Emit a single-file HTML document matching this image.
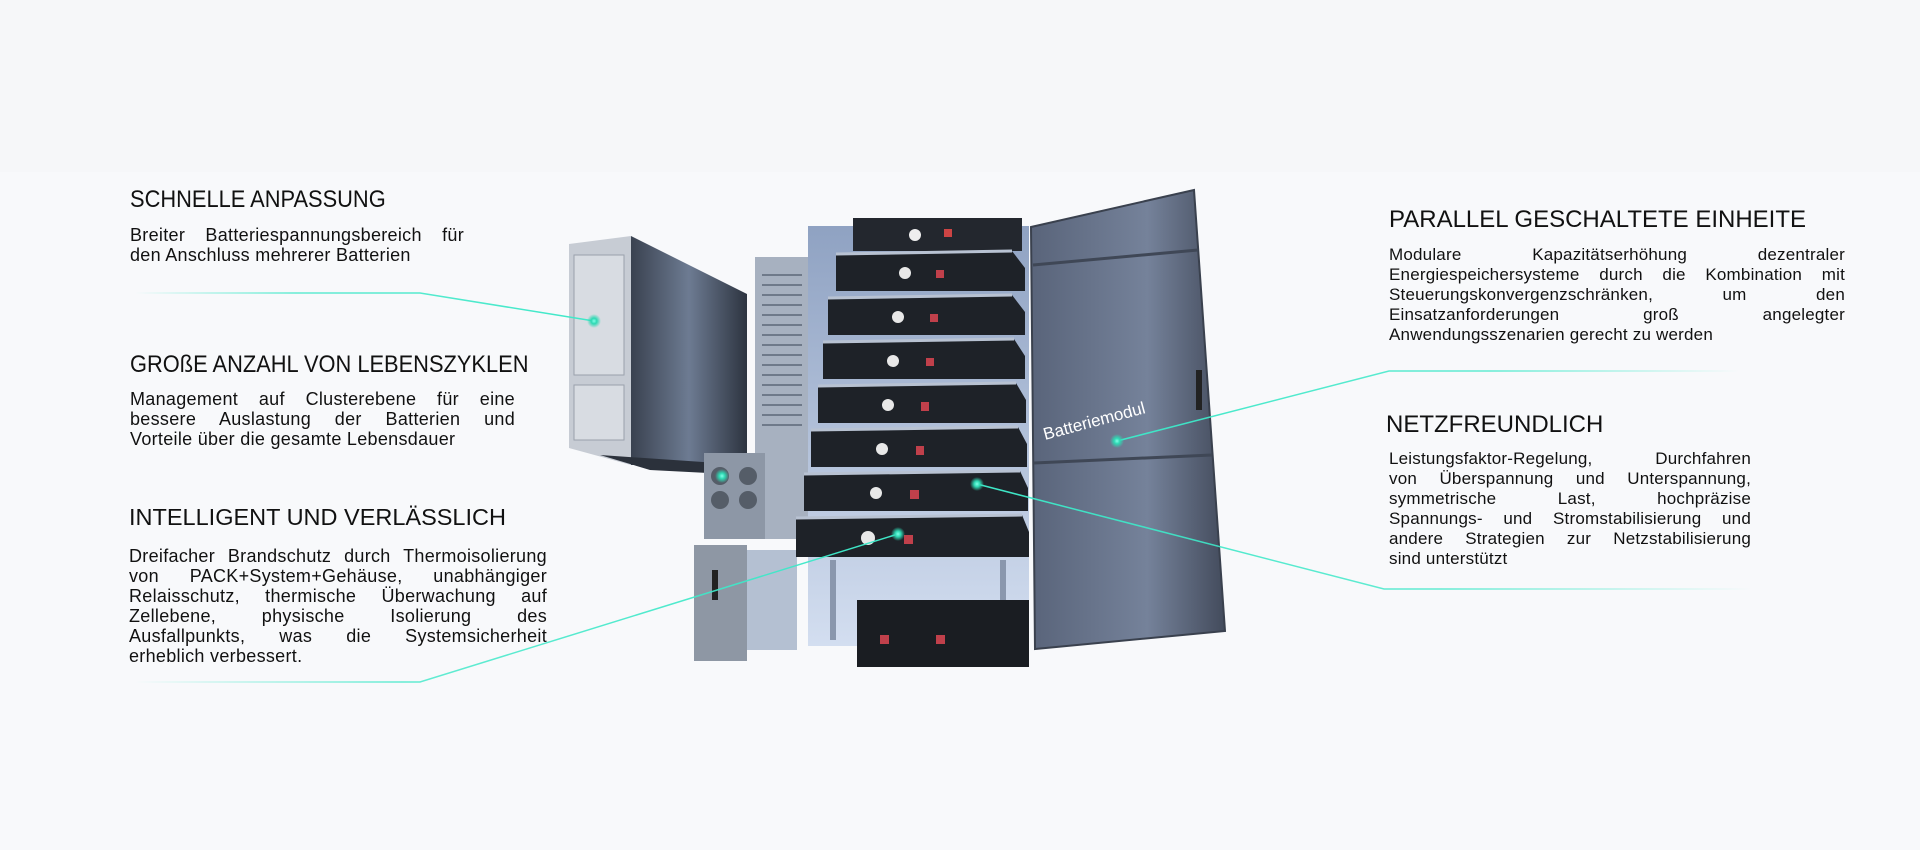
<!DOCTYPE html>
<html><head><meta charset="utf-8"><style>
html,body{margin:0;padding:0;width:1920px;height:850px;overflow:hidden;background:#f8f9fb;font-family:"Liberation Sans",Arial,sans-serif;color:#111;}
.abs{position:absolute;}
.h{font-size:24px;white-space:nowrap;transform-origin:0 0;line-height:28px;}
.b{font-size:17px;line-height:20px;letter-spacing:0.2px;}
.bl{font-size:18px;letter-spacing:0.3px;}
.b div{white-space:nowrap;text-align:justify;text-align-last:justify;}
.b div.l{text-align-last:left;}
</style></head><body>
<div class="abs" style="left:0;top:0;width:1920px;height:172px;background:#f6f7f9"></div>
<svg class="abs" style="left:0;top:0" width="1920" height="850" viewBox="0 0 1920 850">
<defs>
<linearGradient id="gl" x1="0" x2="1" y1="0" y2="0"><stop offset="0" stop-color="#3ee8c8" stop-opacity="0"/><stop offset="0.35" stop-color="#3ee8c8" stop-opacity="0.8"/><stop offset="1" stop-color="#3ee8c8"/></linearGradient>
<linearGradient id="gr" x1="0" x2="1" y1="0" y2="0"><stop offset="0" stop-color="#3ee8c8"/><stop offset="0.6" stop-color="#3ee8c8" stop-opacity="0.8"/><stop offset="1" stop-color="#3ee8c8" stop-opacity="0"/></linearGradient>
<linearGradient id="side" x1="0" x2="1"><stop offset="0" stop-color="#3a4250"/><stop offset="0.5" stop-color="#6d7b92"/><stop offset="1" stop-color="#2d3440"/></linearGradient>
<linearGradient id="door" x1="0" x2="1"><stop offset="0" stop-color="#59647a"/><stop offset="0.6" stop-color="#75829a"/><stop offset="1" stop-color="#434b5c"/></linearGradient>
<linearGradient id="inner" x1="0" y1="0" x2="0" y2="1"><stop offset="0" stop-color="#8fa2c2"/><stop offset="1" stop-color="#d3def0"/></linearGradient>
<radialGradient id="dot"><stop offset="0" stop-color="#7fffe6"/><stop offset="0.4" stop-color="#2fd9b4"/><stop offset="1" stop-color="#2fd9b4" stop-opacity="0"/></radialGradient>
</defs>
<polygon points="631,236 747,294 747,465 631,465" fill="url(#side)"/>
<polygon points="569,244 631,236 631,465 569,448" fill="#c7ccd4"/>
<rect x="574" y="255" width="50" height="120" fill="#d8dce2" stroke="#9aa1ab"/>
<rect x="574" y="385" width="50" height="55" fill="#d8dce2" stroke="#9aa1ab"/>
<polygon points="600,455 747,465 747,475 650,470" fill="#2b313b"/>
<rect x="755" y="257" width="53" height="282" fill="#a7b1c0"/>
<g stroke="#6f7a8a" stroke-width="2">
<line x1="762" y1="275" x2="802" y2="275"/><line x1="762" y1="285" x2="802" y2="285"/><line x1="762" y1="295" x2="802" y2="295"/><line x1="762" y1="305" x2="802" y2="305"/><line x1="762" y1="315" x2="802" y2="315"/><line x1="762" y1="325" x2="802" y2="325"/><line x1="762" y1="335" x2="802" y2="335"/><line x1="762" y1="345" x2="802" y2="345"/><line x1="762" y1="355" x2="802" y2="355"/><line x1="762" y1="365" x2="802" y2="365"/><line x1="762" y1="375" x2="802" y2="375"/><line x1="762" y1="385" x2="802" y2="385"/><line x1="762" y1="395" x2="802" y2="395"/><line x1="762" y1="405" x2="802" y2="405"/><line x1="762" y1="415" x2="802" y2="415"/><line x1="762" y1="425" x2="802" y2="425"/>
</g>
<rect x="808" y="226" width="221" height="420" fill="url(#inner)"/>
<rect x="830" y="560" width="6" height="80" fill="#8a97ad"/><rect x="1000" y="560" width="6" height="80" fill="#8a97ad"/>
<rect x="704" y="453" width="61" height="86" fill="#8d97a6"/>
<circle cx="720" cy="476" r="9" fill="#555d68"/><circle cx="720" cy="500" r="9" fill="#555d68"/><circle cx="748" cy="476" r="9" fill="#555d68"/><circle cx="748" cy="500" r="9" fill="#555d68"/>
<rect x="694" y="545" width="53" height="116" fill="#8e97a4"/>
<rect x="747" y="550" width="50" height="100" fill="#b4c0d2"/>
<rect x="712" y="570" width="6" height="30" fill="#222"/>
<rect x="853" y="218" width="169" height="33" fill="#23272e"/>
<circle cx="915" cy="235" r="6" fill="#eee"/><rect x="944" y="229" width="8" height="8" fill="#c44"/>
<g fill="#1e2228">
<polygon points="836,254 1012,251 1025,268 1025,291 836,291"/>
<polygon points="828,298 1012,295 1025,312 1025,335 828,335"/>
<polygon points="823,342 1014,339 1025,356 1025,379 823,379"/>
<polygon points="818,386 1016,383 1026,400 1026,423 818,423"/>
<polygon points="811,430 1018,427 1027,444 1027,467 811,467"/>
<polygon points="804,474 1020,471 1028,488 1028,511 804,511"/>
<polygon points="796,518 1022,515 1029,532 1029,557 796,557"/>
</g>
<g stroke="#b8c2d2" stroke-width="3">
<line x1="836" y1="254" x2="1012" y2="251"/><line x1="828" y1="298" x2="1012" y2="295"/><line x1="823" y1="342" x2="1014" y2="339"/><line x1="818" y1="386" x2="1016" y2="383"/><line x1="811" y1="430" x2="1018" y2="427"/><line x1="804" y1="474" x2="1020" y2="471"/><line x1="796" y1="518" x2="1022" y2="515"/>
</g>
<g fill="#e8e8e8"><circle cx="905" cy="273" r="6"/><circle cx="898" cy="317" r="6"/><circle cx="893" cy="361" r="6"/><circle cx="888" cy="405" r="6"/><circle cx="882" cy="449" r="6"/><circle cx="876" cy="493" r="6"/><circle cx="868" cy="538" r="7"/></g>
<g fill="#c0404b"><rect x="936" y="270" width="8" height="8"/><rect x="930" y="314" width="8" height="8"/><rect x="926" y="358" width="8" height="8"/><rect x="921" y="402" width="8" height="9"/><rect x="916" y="446" width="8" height="9"/><rect x="910" y="490" width="9" height="9"/><rect x="904" y="535" width="9" height="9"/></g>
<rect x="857" y="600" width="172" height="67" fill="#1a1d22"/>
<rect x="880" y="635" width="9" height="9" fill="#c0404b"/><rect x="936" y="635" width="9" height="9" fill="#c0404b"/>
<polygon points="1031,227 1194,190 1225,631 1035,649" fill="url(#door)" stroke="#3a414e" stroke-width="2"/>
<line x1="1033" y1="265" x2="1198" y2="250" stroke="#3f4756" stroke-width="3"/>
<line x1="1034" y1="463" x2="1212" y2="455" stroke="#3f4756" stroke-width="3"/>
<rect x="1196" y="370" width="6" height="40" fill="#222"/>
<polyline points="135,293 420,293 594,321" fill="none" stroke="url(#gl)" stroke-width="1.5"/>
<line x1="135" y1="476" x2="722" y2="476" stroke="url(#gl)" stroke-width="1.5"/>
<polyline points="135,682 420,682 898,534" fill="none" stroke="url(#gl)" stroke-width="1.5"/>
<polyline points="1117,441 1389,371 1739,371" fill="none" stroke="url(#gr)" stroke-width="1.5"/>
<polyline points="977,484 1384,589 1751,589" fill="none" stroke="url(#gr)" stroke-width="1.5"/>
<g fill="url(#dot)"><circle cx="594" cy="321" r="7"/><circle cx="722" cy="476" r="7"/><circle cx="898" cy="534" r="7"/><circle cx="977" cy="484" r="7"/><circle cx="1117" cy="441" r="7"/></g>
<text x="1045" y="440" transform="rotate(-15 1045 440)" fill="#fff" font-family="Liberation Sans, Arial, sans-serif" font-size="17">Batteriemodul</text>
</svg>

<div class="abs h" style="left:130px;top:186px;transform:scaleX(0.91)">SCHNELLE ANPASSUNG</div>
<div class="abs b bl" style="left:130px;top:225px;width:334px"><div>Breiter Batteriespannungsbereich für</div><div class="l">den Anschluss mehrerer Batterien</div></div>

<div class="abs h" style="left:130px;top:351px;transform:scaleX(0.91)">GROßE ANZAHL VON LEBENSZYKLEN</div>
<div class="abs b bl" style="left:130px;top:389px;width:385px"><div>Management auf Clusterebene für eine</div><div>bessere Auslastung der Batterien und</div><div class="l">Vorteile über die gesamte Lebensdauer</div></div>

<div class="abs h" style="left:129px;top:503px;font-size:23.5px">INTELLIGENT UND VERLÄSSLICH</div>
<div class="abs b bl" style="left:129px;top:546px;width:418px"><div>Dreifacher Brandschutz durch Thermoisolierung</div><div>von PACK+System+Gehäuse, unabhängiger</div><div>Relaisschutz, thermische Überwachung auf</div><div>Zellebene, physische Isolierung des</div><div>Ausfallpunkts, was die Systemsicherheit</div><div class="l">erheblich verbessert.</div></div>

<div class="abs h" style="left:1389px;top:206px;font-size:24px">PARALLEL GESCHALTETE EINHEITE</div>
<div class="abs b" style="left:1389px;top:245px;width:456px"><div>Modulare Kapazitätserhöhung dezentraler</div><div>Energiespeichersysteme durch die Kombination mit</div><div>Steuerungskonvergenzschränken, um den</div><div>Einsatzanforderungen groß angelegter</div><div class="l">Anwendungsszenarien gerecht zu werden</div></div>

<div class="abs h" style="left:1386px;top:411px;font-size:24px">NETZFREUNDLICH</div>
<div class="abs b" style="left:1389px;top:449px;width:362px"><div>Leistungsfaktor-Regelung, Durchfahren</div><div>von Überspannung und Unterspannung,</div><div>symmetrische Last, hochpräzise</div><div>Spannungs- und Stromstabilisierung und</div><div>andere Strategien zur Netzstabilisierung</div><div class="l">sind unterstützt</div></div>
</body></html>
